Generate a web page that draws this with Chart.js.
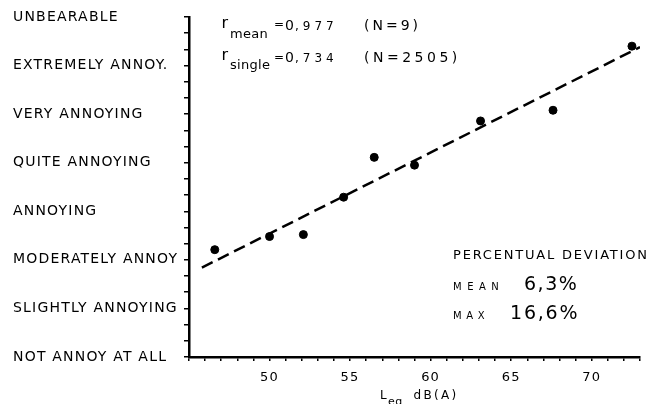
<!DOCTYPE html>
<html>
<head>
<meta charset="utf-8">
<script src="https://cdn.jsdelivr.net/npm/chart.js@4.4.1/dist/chart.umd.min.js"></script>
<style>
  html, body { margin: 0; padding: 0; background: #fff; }
</style>
</head>
<body>
<canvas id="myChart" width="664" height="404"></canvas>
<script>
// annoyance scale, bottom to top
const annoyanceLevels = [
    'NOT ANNOY AT ALL',
    'SLIGHTLY ANNOYING',
    'MODERATELY ANNOY',
    'ANNOYING',
    'QUITE ANNOYING',
    'VERY ANNOYING',
    'EXTREMELY ANNOY.',
    'UNBEARABLE'
];
// mean annoyance per noise level
const leqValues = [46.6, 50.0, 52.1, 54.6, 56.5, 59.0, 63.1, 67.6, 72.5];
const annoyanceScores = [2.21, 2.48, 2.52, 3.29, 4.11, 3.95, 4.86, 5.08, 6.40];
// regression line end points
const fitLeq = [45.8, 73.0];
const fitScore = [1.84, 6.38];
const xLabels = [50, 55, 60, 65, 70];

const FONT = '"DejaVu Sans"';
const TICK_SPACING = '1.2px';

const annotations = {
    id: 'annotations',
    beforeLayout(chart) {
        chart.ctx.letterSpacing = TICK_SPACING;
    },
    beforeDraw(chart) {
        const ctx = chart.ctx;
        ctx.save();
        ctx.fillStyle = '#fff';
        ctx.fillRect(0, 0, chart.width, chart.height);
        ctx.restore();
        ctx.letterSpacing = TICK_SPACING;
    },
    afterDraw(chart) {
        const ctx = chart.ctx;
        const runs = [
            // r_mean line
            { t: 'r', x: 221.5, y: 27.5, size: 16, ls: 0 },
            { t: 'mean', x: 230, y: 37.5, size: 13, ls: 0.3 },
            { t: '=', x: 274, y: 28, size: 12, ls: 0 },
            { t: '0', x: 285, y: 30, size: 14, ls: 0 },
            { t: ',977', x: 295, y: 30, size: 12, ls: 4 },
            { t: '(N=9)', x: 364, y: 30, size: 14, ls: 3 },
            // r_single line
            { t: 'r', x: 221.5, y: 60, size: 16, ls: 0 },
            { t: 'single', x: 230, y: 68.5, size: 13, ls: 0.3 },
            { t: '=', x: 274, y: 60.5, size: 12, ls: 0 },
            { t: '0', x: 285, y: 61.5, size: 14, ls: 0 },
            { t: ',734', x: 295, y: 61.5, size: 12, ls: 4 },
            { t: '(N=2505)', x: 364, y: 62, size: 14, ls: 3.5 },
            // deviation block
            { t: 'PERCENTUAL DEVIATION', x: 453, y: 258.5, size: 13, ls: 1.8 },
            { t: 'MEAN', x: 453, y: 290, size: 10, ls: 5.5 },
            { t: '6,3%', x: 524, y: 290, size: 19, ls: 1.5 },
            { t: 'MAX', x: 453, y: 318.5, size: 10, ls: 4.7 },
            { t: '16,6%', x: 510, y: 318.5, size: 19, ls: 1.8 },
            // axis title
            { t: 'L', x: 380, y: 399, size: 12, ls: 0 },
            { t: 'eq', x: 388, y: 405, size: 11, ls: 0.5 },
            { t: 'dB(A)', x: 413.5, y: 399, size: 12, ls: 2.3 }
        ];
        ctx.save();
        ctx.fillStyle = '#000';
        ctx.textBaseline = 'alphabetic';
        ctx.textAlign = 'left';
        runs.forEach(r => {
            ctx.font = r.size + 'px ' + FONT;
            ctx.letterSpacing = r.ls + 'px';
            ctx.fillText(r.t, r.x, r.y);
        });
        ctx.restore();
    }
};

const ctx = document.getElementById('myChart');

new Chart(ctx, {
    type: 'scatter',
    data: {
        datasets: [{
            label: 'mean annoyance',
            data: leqValues.map((x, i) => ({ x: x, y: annoyanceScores[i] })),
            backgroundColor: '#000',
            borderColor: '#000',
            pointRadius: 4,
            pointHoverRadius: 4
        }, {
            label: 'regression',
            data: fitLeq.map((x, i) => ({ x: x, y: fitScore[i] })),
            showLine: true,
            borderColor: '#000',
            borderWidth: 2.5,
            borderDash: [12, 6],
            pointRadius: 0,
            fill: false
        }]
    },
    options: {
        responsive: false,
        animation: false,
        layout: {
            padding: { left: 13, right: 24, top: 17, bottom: 14 }
        },
        plugins: {
            legend: { display: false },
            tooltip: { enabled: false }
        },
        scales: {
            x: {
                type: 'linear',
                min: 45,
                max: 73,
                afterBuildTicks: (scale) => {
                    const t = [];
                    for (let v = 45; v <= 73; v++) t.push({ value: v });
                    scale.ticks = t;
                },
                ticks: {
                    autoSkip: false,
                    maxRotation: 0,
                    padding: 9,
                    color: '#000',
                    font: { family: 'DejaVu Sans', size: 13 },
                    callback: (v) => xLabels.includes(v) ? String(v) : ''
                },
                grid: {
                    drawOnChartArea: false,
                    drawTicks: true,
                    tickLength: 4,
                    color: '#000',
                    lineWidth: 1.5
                },
                border: { display: true, color: '#000', width: 2.5 },
                afterFit: (scale) => { scale.height = 33; }
            },
            y: {
                type: 'linear',
                min: 0,
                max: 7,
                afterBuildTicks: (scale) => {
                    const t = [];
                    for (let i = 0; i <= 21; i++) t.push({ value: i / 3 });
                    scale.ticks = t;
                },
                ticks: {
                    autoSkip: false,
                    crossAlign: 'far',
                    color: '#000',
                    font: { family: 'DejaVu Sans', size: 14 },
                    callback: (v) => {
                        const r = Math.round(v);
                        return Math.abs(v - r) < 1e-6 ? annoyanceLevels[r] : '';
                    }
                },
                grid: {
                    drawOnChartArea: false,
                    drawTicks: true,
                    tickLength: 5,
                    color: '#000',
                    lineWidth: 1.5
                },
                border: { display: true, color: '#000', width: 2.5 },
                afterFit: (scale) => { scale.width = 176; }
            }
        }
    },
    plugins: [annotations]
});
</script>
</body>
</html>
